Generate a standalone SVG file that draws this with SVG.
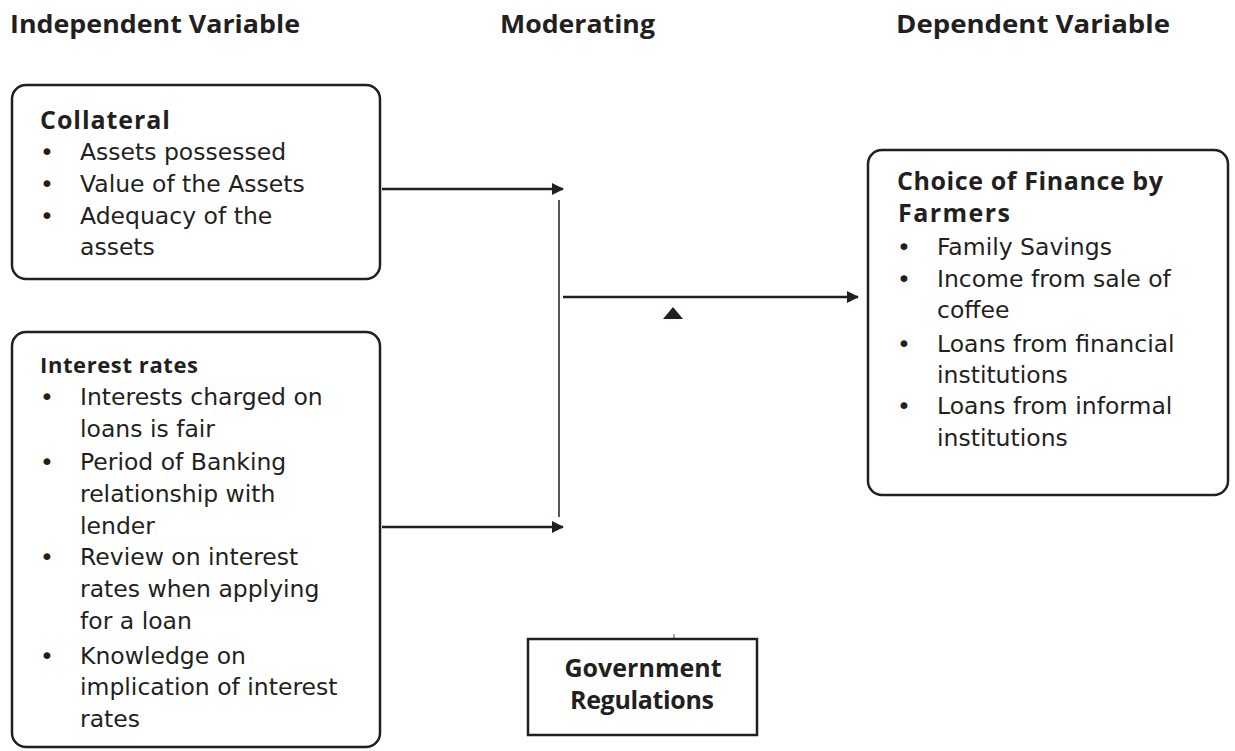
<svg xmlns="http://www.w3.org/2000/svg" width="1235" height="751" viewBox="0 0 1235 751">
<style>
.hdr{font-family:"Open Sans","Liberation Sans",sans-serif;font-weight:bold;font-size:25px;fill:#231f20}
.ttl{font-family:"Open Sans","Liberation Sans",sans-serif;font-weight:bold;font-size:25px;fill:#231f20}
.txt{font-family:"DejaVu Sans","Liberation Sans",sans-serif;font-size:23.5px;fill:#231f20}
.box{fill:none;stroke:#231f20;stroke-width:2.5}
.ln{stroke:#231f20;stroke-width:2.5;fill:none}
.thin{stroke:#231f20;stroke-width:1.5;fill:none}
</style>
<defs>
<marker id="ah" markerWidth="12" markerHeight="12" refX="11" refY="6" orient="auto" markerUnits="userSpaceOnUse">
<path d="M0,0 L12,6 L0,12 Z" fill="#231f20"/>
</marker>
</defs>
<rect width="1235" height="751" fill="#fff"/>
<g id="headers">
<text class="hdr" x="10" y="33" textLength="290" lengthAdjust="spacingAndGlyphs">Independent  Variable</text>
<text class="hdr" x="500" y="33" textLength="155" lengthAdjust="spacingAndGlyphs">Moderating</text>
<text class="hdr" x="896" y="33" textLength="274" lengthAdjust="spacingAndGlyphs">Dependent Variable</text>
</g>
<g id="collateral">
<rect class="box" x="12" y="85" width="368" height="194" rx="14"/>
<text class="ttl" x="40" y="129" textLength="130" lengthAdjust="spacing">Collateral</text>
<g class="txt">
<text x="40" y="160">•</text><text x="80" y="160">Assets possessed</text>
<text x="40" y="192">•</text><text x="80" y="192">Value of the Assets</text>
<text x="40" y="224">•</text><text x="80" y="224">Adequacy of the</text>
<text x="80" y="255">assets</text>
</g>
</g>
<g id="interest">
<rect class="box" x="12" y="332" width="368" height="415" rx="14"/>
<text class="ttl" x="40" y="373" style="font-size:22px" textLength="158" lengthAdjust="spacing">Interest rates</text>
<g class="txt">
<text x="40" y="405">•</text><text x="80" y="405">Interests charged on</text>
<text x="80" y="437">loans is fair</text>
<text x="40" y="470">•</text><text x="80" y="470">Period of Banking</text>
<text x="80" y="502">relationship with</text>
<text x="80" y="534">lender</text>
<text x="40" y="565">•</text><text x="80" y="565">Review on interest</text>
<text x="80" y="597">rates when applying</text>
<text x="80" y="629">for a loan</text>
<text x="40" y="664">•</text><text x="80" y="664">Knowledge on</text>
<text x="80" y="695">implication of interest</text>
<text x="80" y="727">rates</text>
</g>
</g>
<g id="choice">
<rect class="box" x="868" y="150" width="360" height="345" rx="14"/>
<text class="ttl" x="897" y="190" textLength="266" lengthAdjust="spacing">Choice of Finance by</text>
<text class="ttl" x="898" y="222" textLength="112" lengthAdjust="spacing">Farmers</text>
<g class="txt">
<text x="897" y="255">•</text><text x="937" y="255">Family  Savings</text>
<text x="897" y="287">•</text><text x="937" y="287">Income from sale of</text>
<text x="937" y="318">coffee</text>
<text x="897" y="352">•</text><text x="937" y="352">Loans from financial</text>
<text x="937" y="383">institutions</text>
<text x="897" y="414">•</text><text x="937" y="414">Loans from informal</text>
<text x="937" y="446">institutions</text>
</g>
</g>
<g id="government">
<rect class="box" x="528" y="639" width="229" height="96"/>
<text class="ttl" x="643" y="677" text-anchor="middle" textLength="157" lengthAdjust="spacing">Government</text>
<text class="ttl" x="642" y="709" text-anchor="middle" textLength="144" lengthAdjust="spacing">Regulations</text>
</g>
<g id="connectors">
<line class="ln" x1="382" y1="189" x2="563" y2="189" marker-end="url(#ah)"/>
<line class="ln" x1="382" y1="527" x2="563" y2="527" marker-end="url(#ah)"/>
<line class="thin" x1="559" y1="200" x2="559" y2="517"/>
<line class="ln" x1="563" y1="297" x2="858" y2="297" marker-end="url(#ah)"/>
<path d="M663,319 L673,307 L683,319 Z" fill="#231f20"/>
<line class="thin" x1="674" y1="634" x2="674" y2="639" style="stroke-width:0.8"/>
</g>
</svg>
